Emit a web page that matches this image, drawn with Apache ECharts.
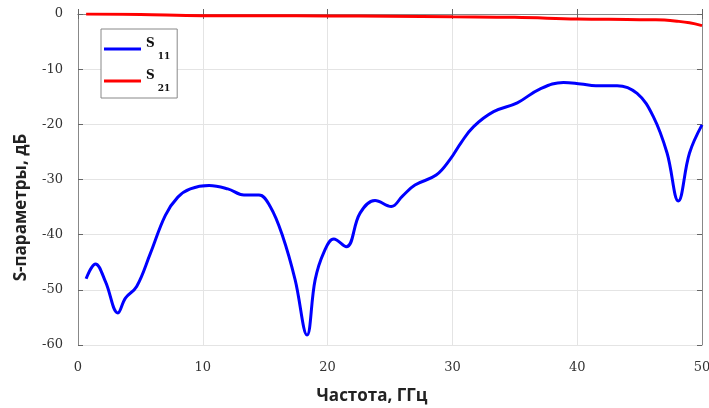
<!DOCTYPE html>
<html>
<head>
<meta charset="utf-8">
<script src="https://cdn.jsdelivr.net/npm/echarts@6/dist/echarts.min.js"></script>
<style>
  html, body { margin: 0; padding: 0; background: #fff; }
  #chart { width: 709px; height: 408px; }
</style>
</head>
<body>
<div id="chart"></div>
<script>
const s11Freq = [0.65, 1.4, 2.2, 3.2, 3.8, 4.7, 5.8, 7.0, 8.0, 9.0, 10.5, 12.0, 13.3, 14.5, 15.4, 16.4, 17.4, 18.35, 19.0, 19.7, 20.5, 21.5, 22.6, 23.8, 25.1, 26.0, 27.0, 28.7, 29.8, 30.7, 31.7, 33.3, 35.2, 37.0, 38.9, 40.3, 41.5, 43.2, 44.8, 46.1, 47.2, 48.1, 49.0, 50.0];
const s11Db = [-48.0, -45.3, -48.5, -54.2, -51.5, -49.4, -43.4, -36.5, -33.2, -31.7, -31.1, -31.7, -32.8, -32.8, -34.9, -40.3, -48.2, -58.2, -48.2, -43.2, -40.8, -42.2, -36.1, -33.8, -34.9, -33.0, -31.0, -29.2, -26.4, -23.3, -20.4, -17.7, -16.1, -13.6, -12.4, -12.7, -13.0, -13.0, -14.4, -18.6, -25.2, -33.9, -25.2, -20.1];

const s21Freq = [0.65, 5, 10, 15, 20, 25, 30, 35, 40, 44, 46, 47, 48, 49, 50];
const s21Db = [0, -0.1, -0.3, -0.3, -0.35, -0.4, -0.5, -0.6, -0.9, -1.0, -1.05, -1.1, -1.3, -1.6, -2.1];

const xTicks = [0, 10, 20, 30, 40, 50];
const yTicks = [-60, -50, -40, -30, -20, -10, 0];

const chart = echarts.init(document.getElementById("chart"), null, { renderer: "canvas" });

const tickFont = { color: "#333333", fontFamily: "DejaVu Serif", fontSize: 13 };
const titleFont = { color: "#222222", fontFamily: "Open Sans", fontSize: 17, fontWeight: "bold" };

const option = {
  animation: false,
  grid: { left: 78, right: 7, top: 14, bottom: 63, outerBoundsMode: "none" },
  legend: {
    orient: "vertical",
    left: 101,
    top: 29,
    padding: [8, 7, 5, 3],
    itemGap: 8,
    itemWidth: 37,
    itemHeight: 3,
    icon: "rect",
    borderColor: "#888888",
    borderWidth: 1,
    backgroundColor: "#ffffff",
    // S с подстрочным индексом
    formatter: (name) => `{s|${name.charAt(0)}}{sub|${name.slice(1)}}`,
    textStyle: {
      rich: {
        s: { fontFamily: "DejaVu Serif", fontWeight: "bold", fontSize: 12, color: "#111", lineHeight: 14, padding: [0, 0, 11, 0] },
        sub: { fontFamily: "DejaVu Serif", fontWeight: "bold", fontSize: 9, color: "#111", lineHeight: 12, padding: [15, 0, 0, 3] },
      },
    },
  },
  xAxis: [
    {
      type: "value",
      min: xTicks[0],
      max: xTicks[xTicks.length - 1],
      interval: 10,
      name: "Частота, ГГц",
      nameLocation: "middle",
      nameGap: 43,
      nameTextStyle: { ...titleFont, padding: [0, 36, 0, 0] },
      axisLine: { show: true, lineStyle: { color: "#888888" } },
      axisTick: { show: true, inside: true, length: 5, lineStyle: { color: "#666666" } },
      axisLabel: { ...tickFont, margin: 16 },
      splitLine: { show: true, lineStyle: { color: "#e4e4e4" } },
    },
    {
      type: "value",
      position: "top",
      min: xTicks[0],
      max: xTicks[xTicks.length - 1],
      interval: 10,
      axisLine: { show: true, onZero: false, lineStyle: { color: "#888888" } },
      axisTick: { show: true, inside: true, length: 5, lineStyle: { color: "#666666" } },
      axisLabel: { show: false },
      splitLine: { show: false },
    },
  ],
  yAxis: [
    {
      type: "value",
      min: yTicks[0],
      max: yTicks[yTicks.length - 1],
      interval: 10,
      name: "S-параметры, дБ",
      nameLocation: "middle",
      nameGap: 48,
      nameTextStyle: { ...titleFont, padding: [0, 56, 0, 0] },
      axisLine: { show: true, onZero: false, lineStyle: { color: "#888888" } },
      axisTick: { show: true, inside: true, length: 5, lineStyle: { color: "#666666" } },
      axisLabel: { ...tickFont, margin: 15 },
      splitLine: { show: true, lineStyle: { color: "#e4e4e4" } },
    },
    {
      type: "value",
      position: "right",
      min: yTicks[0],
      max: yTicks[yTicks.length - 1],
      interval: 10,
      axisLine: { show: true, onZero: false, lineStyle: { color: "#888888" } },
      axisTick: { show: true, inside: true, length: 5, lineStyle: { color: "#666666" } },
      axisLabel: { show: false },
      splitLine: { show: false },
    },
  ],
  series: [
    {
      name: "S11",
      type: "line",
      smooth: 0.4,
      showSymbol: false,
      data: s11Freq.map((f, i) => [f, s11Db[i]]),
      lineStyle: { color: "#0000ff", width: 3 },
      itemStyle: { color: "#0000ff" },
    },
    {
      name: "S21",
      type: "line",
      smooth: 0.4,
      showSymbol: false,
      data: s21Freq.map((f, i) => [f, s21Db[i]]),
      lineStyle: { color: "#ff0000", width: 3 },
      itemStyle: { color: "#ff0000" },
    },
  ],
};

chart.setOption(option);
</script>
</body>
</html>
